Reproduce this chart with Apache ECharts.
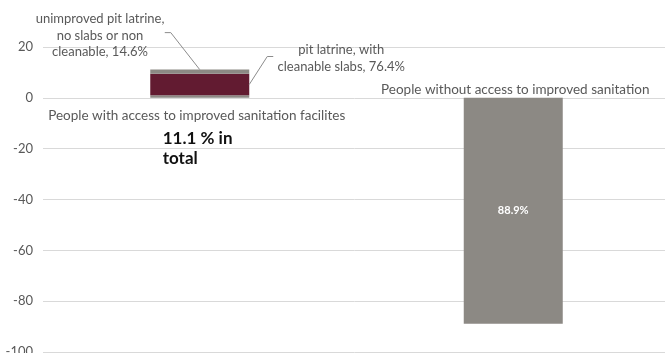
<!DOCTYPE html>
<html>
<head>
<meta charset="utf-8">
<script src="https://cdn.jsdelivr.net/npm/echarts@6/dist/echarts.min.js"></script>
<style>
html,body{margin:0;padding:0;background:#fff;}
#chart{width:665px;height:353px;}
</style>
</head>
<body>
<div id="chart"></div>
<script>
// ---- data ----
const categories = ['People with access to improved sanitation facilites', 'People without access to improved sanitation'];
const otherImproved = [1.0, '-'];          // remaining improved share (bottom segment)
const cleanableSlabs = [8.48, '-'];        // pit latrine, with cleanable slabs (76.4% of 11.1)
const unimprovedLatrine = [1.62, '-'];     // unimproved pit latrine (14.6% of 11.1)
const withoutAccess = ['-', -88.9];
const yMin = -100, yMax = 20, yInterval = 20;
const totalAccess = 11.1;
const noteUnimproved = 'unimproved pit latrine,\nno slabs or non\ncleanable, 14.6%';
const noteCleanable = 'pit latrine, with\ncleanable slabs, 76.4%';
const totalText = '11.1 % in\ntotal';
const withoutText = '88.9%';

const FONT = 'Lato';
const GRAY = '#8c8984';
const MAROON = '#621b31';
const TXT = '#595959';
const BW = 99;

const chart = echarts.init(document.getElementById('chart'), null, {renderer: 'canvas'});
chart.setOption({
  animation: false,
  backgroundColor: '#fff',
  textStyle: {fontFamily: FONT},
  grid: {left: 43, right: -5, top: 47, bottom: 1, containLabel: false, outerBoundsMode: 'none'},
  xAxis: {
    type: 'category', data: categories,
    axisLine: {show: false}, axisTick: {show: false}, axisLabel: {show: false}
  },
  yAxis: {
    type: 'value', min: yMin, max: yMax, interval: yInterval,
    axisLine: {show: false}, axisTick: {show: false},
    axisLabel: {color: TXT, fontSize: 13, fontFamily: FONT, margin: 10},
    splitLine: {lineStyle: {color: '#d9d9d9', width: 1}}
  },
  series: [
    {type: 'bar', stack: 's', barWidth: BW, data: otherImproved, itemStyle: {color: GRAY}},
    {type: 'bar', stack: 's', barWidth: BW, data: cleanableSlabs, itemStyle: {color: MAROON}},
    {type: 'bar', stack: 's', barWidth: BW, data: unimprovedLatrine, itemStyle: {color: GRAY}},
    {type: 'bar', stack: 's', barWidth: BW, data: withoutAccess, itemStyle: {color: GRAY}}
  ]
});

function px(ci, v) { return chart.convertToPixel({gridIndex: 0}, [ci, v]); }
const c0top = px(0, totalAccess);
const c0zero = px(0, 0);
const c0mid = px(0, otherImproved[0] + cleanableSlabs[0] / 2);
const c1zero = px(1, 0);
const c1lbl = px(1, -44.5);
const c0tot = px(0, -20);

const lineStyle = {stroke: '#8c8c8c', lineWidth: 1, fill: null};
chart.setOption({
  graphic: [
    {type: 'text', z: 100, x: c0zero[0] - 3, y: c0zero[1] + 18,
      style: {text: categories[0], fill: TXT, font: '13.5px ' + FONT, textAlign: 'center', textVerticalAlign: 'middle'}},
    {type: 'text', z: 100, x: c1zero[0] + 2, y: c1zero[1] - 8,
      style: {text: categories[1], fill: TXT, font: '13.5px ' + FONT, textAlign: 'center', textVerticalAlign: 'middle'}},
    {type: 'text', z: 100, x: c0tot[0] - 37, y: c0tot[1],
      style: {text: totalText, fill: '#111', font: 'bold 17px ' + FONT, lineHeight: 20, textAlign: 'left', textVerticalAlign: 'middle'}},
    {type: 'text', z: 100, x: c1lbl[0], y: c1lbl[1],
      style: {text: withoutText, fill: '#fff', font: 'bold 11px ' + FONT, textAlign: 'center', textVerticalAlign: 'middle'}},
    {type: 'text', z: 100, x: 100, y: c0top[1] - 34,
      style: {text: noteUnimproved, fill: TXT, font: '13px ' + FONT, lineHeight: 16.5, textAlign: 'center', textVerticalAlign: 'middle'}},
    {type: 'text', z: 100, x: c0mid[0] + BW / 2 + 92, y: c0mid[1] - 26,
      style: {text: noteCleanable, fill: TXT, font: '13px ' + FONT, lineHeight: 17, textAlign: 'center', textVerticalAlign: 'middle'}},
    {type: 'polyline', z: 100, shape: {points: [[c0top[0] - 35, c0top[1] - 37], [c0top[0] - 29, c0top[1] - 37], [c0top[0], c0top[1]]]}, style: lineStyle},
    {type: 'polyline', z: 100, shape: {points: [[c0mid[0] + BW / 2 + 24, c0mid[1] - 28], [c0mid[0] + BW / 2 + 18, c0mid[1] - 28], [c0mid[0] + BW / 2, c0mid[1]]]}, style: lineStyle}
  ]
});
</script>
</body>
</html>
